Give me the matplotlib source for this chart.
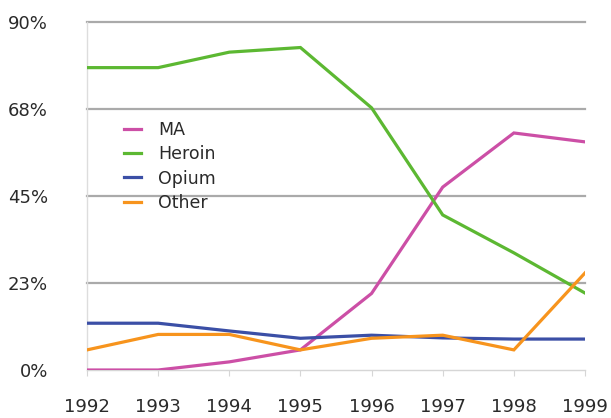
import matplotlib
matplotlib.use("Agg")
import matplotlib.pyplot as plt

years = [1992, 1993, 1994, 1995, 1996, 1997, 1998, 1999]
ma = [0.0, 0.0, 2.1, 5.2, 19.8, 47.3, 61.3, 59.0]
heroin = [78.2, 78.2, 82.2, 83.4, 67.8, 40.1, 30.3, 19.9]
opium = [12.1, 12.1, 10.1, 8.2, 9.0, 8.3, 8.0, 8.0]
other = [5.2, 9.2, 9.2, 5.2, 8.2, 9.0, 5.2, 25.1]

series_names = ["MA", "Heroin", "Opium", "Other"]
colors = ["#cc4fa6", "#5cb832", "#3b4fa6", "#f7941d"]
ytick_vals = [0, 22.5, 45, 67.5, 90]
ytick_labels = ["0%", "23%", "45%", "68%", "90%"]

W, H = 611, 418
fig = plt.figure(figsize=(W / 100, H / 100), dpi=100)
ax = fig.add_axes([87 / W, 1 - 370 / H, (585 - 87) / W, (370 - 22) / H])

for name, vals, c in zip(series_names, [ma, heroin, opium, other], colors):
    ax.plot(years, vals, color=c, lw=2.3, label=name, solid_joinstyle="miter", zorder=3)

ax.set_xlim(1992, 1999)
ax.set_ylim(0, 90)
ax.set_yticks(ytick_vals)
ax.set_yticklabels(ytick_labels)
ax.set_xticks(years)
ax.set_xticklabels([str(y) for y in years])

for v in ytick_vals[1:]:
    ax.axhline(v, color="#aaaaaa", lw=1.6, zorder=1, clip_on=False)

for s in ["top", "right"]:
    ax.spines[s].set_visible(False)
ax.spines["left"].set_color("#dddddd")
ax.spines["bottom"].set_color("#d6d6d6")
ax.spines["left"].set_linewidth(1.0)
ax.spines["bottom"].set_linewidth(1.0)

ax.tick_params(axis="y", length=0, pad=28, labelsize=13, labelcolor="#2a2a2a")
ax.tick_params(axis="x", length=4, color="#d6d6d6", pad=16.5, labelsize=13, labelcolor="#2a2a2a")

leg = fig.legend(loc="upper left", bbox_to_anchor=(124 / W, 1 - 121 / H),
                 frameon=False, fontsize=12.5, handlelength=1.0, handletextpad=0.95,
                 labelspacing=0.36, borderpad=0, borderaxespad=0)
for t in leg.get_texts():
    t.set_color("#2a2a2a")
for l in leg.get_lines():
    l.set_linewidth(2.3)

fig.savefig("out.png", dpi=100)
